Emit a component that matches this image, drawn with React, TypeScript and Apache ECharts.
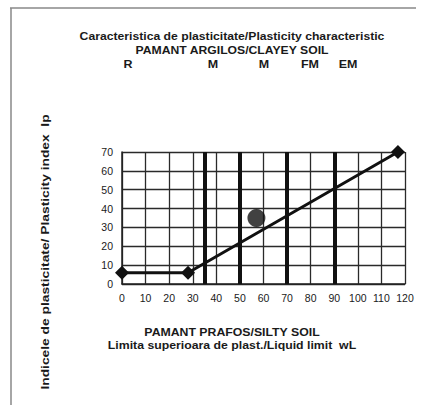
import React, { useEffect, useRef } from "react";
import * as echarts from "echarts";

const titleLines = [
  "Caracteristica de plasticitate/Plasticity characteristic",
  "PAMANT ARGILOS/CLAYEY SOIL",
];
const zoneLabels = ["R", "M", "M", "FM", "EM"];
const xAxisLines = [
  "PAMANT PRAFOS/SILTY SOIL",
  "Limita superioara de plast./Liquid limit  wL",
];
const yAxisTitle = "Indicele de plasticitate/ Plasticity index  Ip";

const lineX = [0, 28, 117];
const lineY = [6, 6, 70];
const sampleX = [57];
const sampleY = [35];
const boundaries = [35, 50, 70, 90];

const FONT = "Liberation Sans, Arial, sans-serif";
const INK = "#1a1a1a";

export default function App() {
  const ref = useRef<HTMLDivElement>(null);
  useEffect(() => {
    if (!ref.current) return;
    const chart = echarts.init(ref.current, null, { renderer: "svg" });
    const zoneX = [128, 213, 264, 310, 348];
    const txt = (t: string, x: number, y: number, sx: number, rot = 0) => ({
      type: "text",
      x,
      y,
      rotation: rot,
      scaleX: sx,
      style: { text: t, font: `bold 10px ${FONT}`, fill: INK, textAlign: "center", textVerticalAlign: "middle" },
    });
    const option: any = {
      animation: false,
      backgroundColor: "#ffffff",
      grid: { left: 122, right: 29, top: 152, bottom: 121 },
      xAxis: {
        type: "value",
        min: 0,
        max: 120,
        interval: 10,
        axisLine: { show: true, lineStyle: { color: "#222", width: 1.5 } },
        axisTick: { show: false },
        axisLabel: { color: INK, fontFamily: FONT, fontSize: 10.5, margin: 8 },
        splitLine: { show: true, lineStyle: { color: "#2a2a2a", width: 1.3 } },
      },
      yAxis: {
        type: "value",
        min: 0,
        max: 70,
        interval: 10,
        axisLine: { show: true, lineStyle: { color: "#222", width: 1.5 } },
        axisTick: { show: false },
        axisLabel: { color: INK, fontFamily: FONT, fontSize: 10.5, margin: 9 },
        splitLine: { show: true, lineStyle: { color: "#2a2a2a", width: 1.3 } },
      },
      series: [
        {
          type: "line",
          data: lineX.map((x, i) => [x, lineY[i]]),
          symbol: "diamond",
          symbolSize: 14,
          itemStyle: { color: "#111" },
          lineStyle: { color: "#111", width: 3 },
          z: 5,
          markLine: {
            silent: true,
            symbol: "none",
            label: { show: false },
            lineStyle: { color: "#111", width: 4, type: "solid" },
            data: boundaries.map((b) => ({ xAxis: b })),
          },
        },
        {
          type: "scatter",
          data: sampleX.map((x, i) => [x, sampleY[i]]),
          symbol: "circle",
          symbolSize: 18,
          itemStyle: { color: "#111" },
          z: 6,
        },
      ],
      graphic: [
        { type: "line", shape: { x1: 10, y1: 8, x2: 416, y2: 8 }, style: { stroke: "#888", lineWidth: 1.5 } },
        { type: "line", shape: { x1: 11, y1: 8, x2: 11, y2: 405 }, style: { stroke: "#888", lineWidth: 1.5 } },
        ...titleLines.map((t, i) => txt(t, 232, 36 + i * 14, 1.22)),
        ...zoneLabels.map((t, i) => txt(t, zoneX[i], 64, 1.25)),
        ...xAxisLines.map((t, i) => txt(t, 232, 332 + i * 13, 1.23)),
        txt(yAxisTitle, 46, 252, 1.38, Math.PI / 2),
      ],
    };
    chart.setOption(option);
    return () => chart.dispose();
  }, []);
  return <div ref={ref} style={{ position: "fixed", left: 0, top: 0, width: 434, height: 405 }} />;
}
